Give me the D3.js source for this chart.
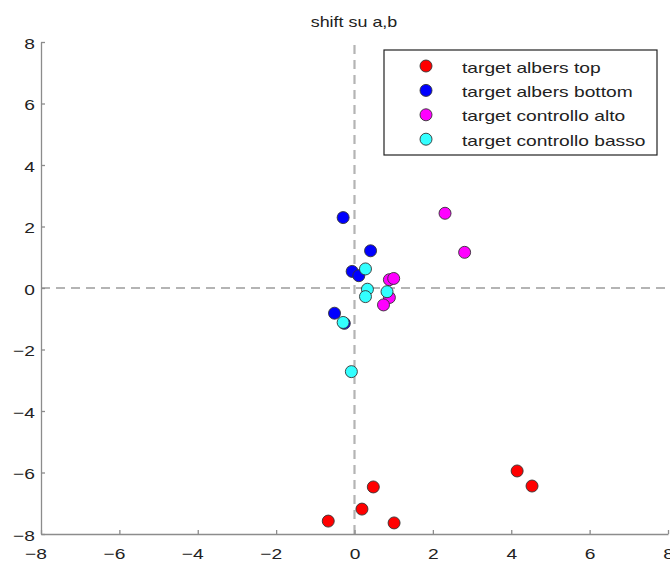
<!DOCTYPE html>
<html>
<head>
<meta charset="utf-8">
<script src="https://cdn.jsdelivr.net/npm/d3@7"></script>
<style>
  html, body { margin: 0; padding: 0; background: #fff; }
  svg { display: block; font-family: "Liberation Sans", Arial, sans-serif; }
</style>
</head>
<body>
<svg id="chart" width="670" height="565"></svg>
<script>
// Shift on the a,b plane for each target group
const seriesNames = ["target albers top", "target albers bottom", "target controllo alto", "target controllo basso"];
const seriesColors = ["#ff0000", "#0000ff", "#ff00ff", "#33ffff"];

const albersTop = [[-0.67, -7.58], [0.19, -7.19], [0.48, -6.47], [1.01, -7.64], [4.15, -5.95], [4.53, -6.44]];
const albersBottom = [[-0.29, 2.29], [0.41, 1.21], [-0.06, 0.54], [0.11, 0.40], [-0.51, -0.82], [-0.26, -1.15]];
const controlloAlto = [[0.89, 0.27], [1.0, 0.31], [0.89, -0.31], [0.74, -0.55], [2.31, 2.43], [2.81, 1.16]];
const controlloBasso = [[0.28, 0.62], [0.33, -0.04], [0.28, -0.28], [0.83, -0.12], [-0.29, -1.12], [-0.08, -2.72]];

const xTicks = [-8, -6, -4, -2, 0, 2, 4, 6, 8];
const yTicks = [-8, -6, -4, -2, 0, 2, 4, 6, 8];

const svg = d3.select("#chart");
const plotLeft = 41, plotRight = 668, plotTop = 42, plotBottom = 534;
const stretch = 1.28;   // wide lettering

const x = d3.scaleLinear().domain([-8, 8]).range([plotLeft, plotRight]);
const y = d3.scaleLinear().domain([-8, 8]).range([plotBottom, plotTop]);

// horizontally widened text anchored at (tx, ty)
function wideText(parent, tx, ty, str, size, anchor) {
  return parent.append("text")
    .attr("transform", `translate(${tx},${ty}) scale(${stretch},1)`)
    .attr("text-anchor", anchor)
    .attr("font-size", size).attr("fill", "#222")
    .text(str);
}

// title
wideText(svg, 354, 27, "shift su a,b", 14, "middle");

// dashed reference lines through the origin
svg.append("line")
  .attr("x1", x(-8)).attr("x2", x(8)).attr("y1", y(0)).attr("y2", y(0))
  .attr("stroke", "#b4b4b4").attr("stroke-width", 2.2).attr("stroke-dasharray", "9,6");
svg.append("line")
  .attr("x1", x(0)).attr("x2", x(0)).attr("y1", y(-8)).attr("y2", y(8))
  .attr("stroke", "#b4b4b4").attr("stroke-width", 2.2).attr("stroke-dasharray", "9,6");

// axes with inward ticks
const fmt = d => d < 0 ? "\u2212" + Math.abs(d) : d;
const xAxis = svg.append("g").attr("transform", `translate(0,${plotBottom})`)
  .call(d3.axisBottom(x).tickValues(xTicks).tickSizeInner(-4).tickSizeOuter(0).tickFormat(fmt));
const yAxis = svg.append("g").attr("transform", `translate(${plotLeft},0)`)
  .call(d3.axisLeft(y).tickValues(yTicks).tickSizeInner(-4).tickSizeOuter(0).tickFormat(fmt));
[xAxis, yAxis].forEach(g => {
  g.select(".domain").attr("stroke", "#8c8c8c").attr("stroke-width", 1.3);
  g.selectAll(".tick line").attr("stroke", "#8c8c8c").attr("stroke-width", 1.3);
  g.selectAll(".tick text")
    .attr("font-size", 15).attr("fill", "#222")
    .attr("font-family", "Liberation Sans, Arial, sans-serif")
    .attr("x", null).attr("y", null).attr("dy", null);
});
// digits centred under the tick, minus sign hanging to the left
xAxis.selectAll(".tick text")
  .attr("dy", null)
  .attr("transform", d => `translate(${d < 0 ? -5.5 : 0},${25}) scale(${stretch},1)`);
yAxis.selectAll(".tick text")
  .attr("dy", "0.35em")
  .attr("transform", `translate(-6,1) scale(${stretch},1)`);

// points
const groups = [albersTop, albersBottom, controlloAlto, controlloBasso];
groups.forEach((pts, i) => {
  svg.append("g").selectAll("circle").data(pts).join("circle")
    .attr("cx", d => x(d[0])).attr("cy", d => y(d[1]))
    .attr("r", 6)
    .attr("fill", seriesColors[i])
    .attr("stroke", "#333").attr("stroke-width", 0.9);
});

// legend
const lg = svg.append("g");
lg.append("rect")
  .attr("x", 384).attr("y", 50).attr("width", 273).attr("height", 105)
  .attr("fill", "#fff").attr("stroke", "#222").attr("stroke-width", 1.2);
seriesNames.forEach((name, i) => {
  const cy = 66 + i * 24.4;
  lg.append("circle").attr("cx", 426).attr("cy", cy).attr("r", 6)
    .attr("fill", seriesColors[i]).attr("stroke", "#333").attr("stroke-width", 0.9);
  wideText(lg, 462, cy + 6.5, name, 15, "start");
});
</script>
</body>
</html>
